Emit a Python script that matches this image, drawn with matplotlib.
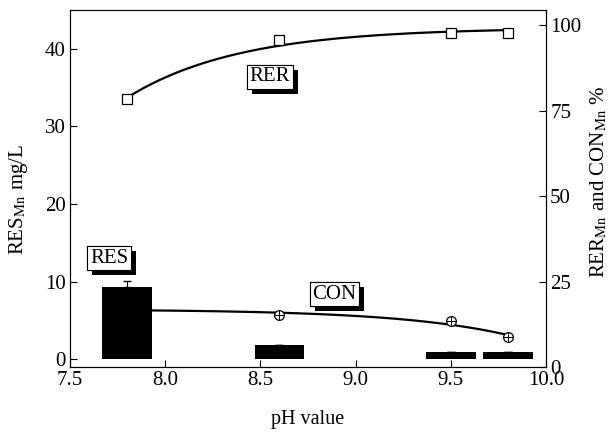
import numpy as np
import matplotlib
matplotlib.use("Agg")
import matplotlib.pyplot as plt
import matplotlib.patheffects as pe

plt.rcParams['font.family'] = ['Liberation Serif', 'DejaVu Serif']
plt.rcParams['mathtext.fontset'] = 'stix'

# ---------------- Data ---------------- #
ph = [7.8, 8.6, 9.5, 9.8]
res = [9.3, 1.8, 0.95, 0.95]        # mg/L, left axis
res_err = [0.8, 0.1, 0.05, 0.05]
rer = [78.4, 95.6, 97.6, 97.7]      # %, right axis
con = [16.9, 15.2, 13.4, 8.9]       # %, right axis


def exp_fit(x, y, kmax=1.7):
    # least squares fit of y = a + b*exp(k*x), k picked from a limited grid
    x = np.asarray(x)
    y = np.asarray(y)
    best = None
    for k in np.linspace(-kmax, kmax, 69):
        if abs(k) < 1e-6:
            continue
        A = np.column_stack([np.ones_like(x), np.exp(k * x)])
        coef, *_ = np.linalg.lstsq(A, y, rcond=None)
        err = np.sum((A @ coef - y) ** 2)
        if best is None or err < best[0]:
            best = (err, k, coef)
    _, k, (a, b) = best
    return lambda t: a + b * np.exp(k * t)


# ---------------- Plot ---------------- #
fig = plt.figure(figsize=(6.08, 4.32), dpi=100)
ax = fig.add_axes([0.115, 0.150, 0.783, 0.827])
ax2 = ax.twinx()

ax.bar(ph, res, width=0.26, color='black', zorder=3)
ax.errorbar(ph, res, yerr=[[0] * 4, res_err], fmt='none', ecolor='black',
            elinewidth=0.8, capsize=3, zorder=3)

# fitted trend lines
xs = np.linspace(ph[0], ph[-1], 200)
ax2.plot(xs, exp_fit(ph, rer)(xs), color='black', lw=1.6, zorder=2)
ax2.plot(xs, exp_fit(ph, con)(xs), color='black', lw=1.6, zorder=1)

ax2.plot(ph, rer, 's', ms=7, mfc='white', mec='black', mew=0.9, zorder=4)
ax2.plot(ph, con, 'o', ms=7, mfc='white', mec='black', mew=0.9, zorder=4)
ax2.plot(ph, con, '+', ms=7, mec='black', mew=0.7, zorder=5)

# bars in front of the CON line
ax.set_zorder(ax2.get_zorder() + 1)
ax.patch.set_visible(False)

ax.set_xlim(7.5, 10.0)
ax.set_ylim(-1.0, 45.0)
ax2.set_ylim(0, 104.4)
ax.set_xticks([7.5, 8.0, 8.5, 9.0, 9.5, 10.0])
ax.set_yticks([0, 10, 20, 30, 40])
ax2.set_yticks([0, 25, 50, 75, 100])

ax.tick_params(direction='in', length=5, top=False, right=False, labelsize=15, pad=3)
ax2.tick_params(direction='in', length=5, labelsize=15, pad=3)

ax.set_xlabel('pH value', fontsize=14.5, labelpad=14)
ax.set_ylabel('RES$_{\\mathrm{Mn}}$ mg/L', fontsize=15)
ax2.set_ylabel('RER$_{\\mathrm{Mn}}$ and CON$_{\\mathrm{Mn}}$ %', fontsize=15)
ax.yaxis.set_label_coords(-0.084, 0.47)
ax2.yaxis.set_label_coords(1.089, 0.52)


def shadow_label(x, y, s):
    t = ax.text(x, y, s, ha='center', va='center', color='black', fontsize=15, zorder=7,
                bbox=dict(boxstyle='square,pad=0.12', fc='white', ec='black', lw=0.8))
    t.get_bbox_patch().set_path_effects([
        pe.withSimplePatchShadow(offset=(3.6, -3.6), shadow_rgbFace='black', alpha=1.0),
        pe.Normal()])


shadow_label(8.55, 36.4, 'RER')
shadow_label(7.705, 13.0, 'RES')
shadow_label(8.89, 8.4, 'CON')

fig.savefig('out.png', dpi=100)
